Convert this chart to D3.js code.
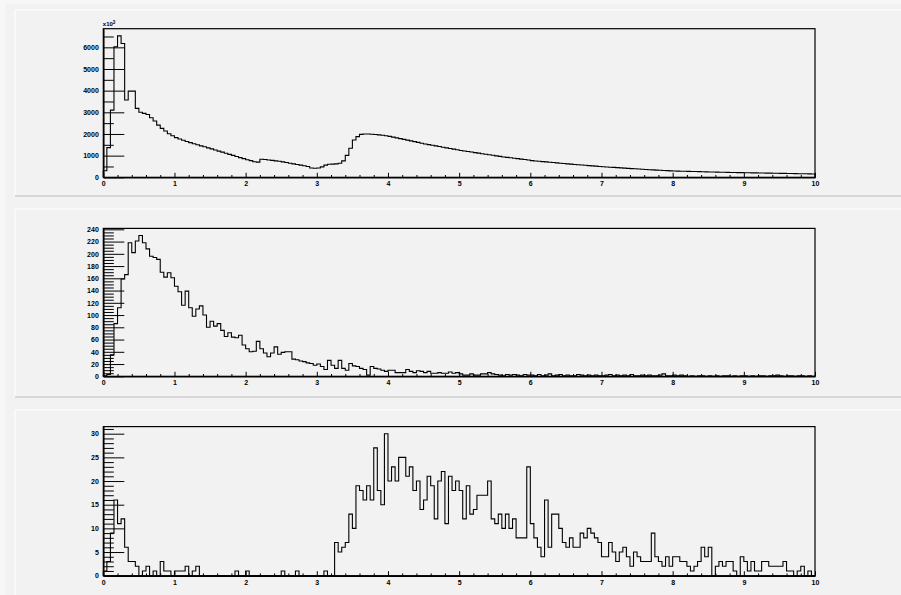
<!DOCTYPE html>
<html>
<head>
<meta charset="utf-8">
<script src="https://cdn.jsdelivr.net/npm/d3@7"></script>
<style>
  body { margin: 0; background: #f7f7f7; }
  svg text { font-family: "Liberation Sans", Arial, sans-serif; font-weight: bold; font-size: 7px; fill: #000; }
</style>
</head>
<body>
<svg id="canvas" width="901" height="595"></svg>
<script>
// histogram range, 200 bins of 0.05
const xDomain = [0, 10];
const nBins = 200;

// top pad (labels in units shown on axis, x10^3)
const topCounts = [
  300, 1370, 3100, 6030, 6530, 6180, 3570, 3980, 3980, 3180,
  3000, 2950, 2900, 2750, 2600, 2410, 2260, 2140, 2010, 1920,
  1830, 1770, 1710, 1650, 1600, 1550, 1500, 1450, 1410, 1360,
  1310, 1260, 1210, 1160, 1110, 1060, 1010, 960, 910, 860,
  810, 770, 720, 700, 830, 820, 800, 780, 760, 740,
  710, 680, 650, 620, 590, 560, 530, 500, 430, 420,
  430, 480, 560, 600, 610, 620, 650, 760, 1010, 1340,
  1720, 1880, 1980, 2000, 2000, 1990, 1975, 1960, 1940, 1920,
  1890, 1855, 1820, 1785, 1750, 1715, 1680, 1645, 1610, 1575,
  1540, 1510, 1480, 1450, 1420, 1390, 1360, 1330, 1300, 1270,
  1240, 1215, 1190, 1165, 1140, 1115, 1090, 1065, 1040, 1015,
  990, 965, 940, 920, 900, 880, 860, 840, 820, 800,
  770, 755, 740, 725, 710, 695, 680, 665, 650, 636,
  622, 608, 594, 580, 566, 553, 540, 527, 514, 501,
  489, 478, 467, 456, 445, 434, 423, 412, 402, 392,
  382, 372, 362, 352, 342, 333, 324, 315, 306, 298,
  290, 286, 282, 278, 274, 270, 265, 260, 255, 250,
  246, 242, 238, 234, 230, 226, 222, 219, 216, 214,
  212, 209, 206, 203, 200, 197, 194, 191, 188, 185,
  182, 179, 176, 173, 170, 167, 164, 161, 158, 155
];

const midCounts = [
  1, 3, 35, 86, 112, 159, 166, 218, 202, 221,
  230, 218, 208, 196, 194, 191, 170, 162, 169, 161,
  147, 138, 116, 139, 112, 98, 110, 115, 100, 80,
  90, 82, 86, 75, 65, 71, 64, 63, 67, 51,
  45, 40, 41, 57, 45, 38, 32, 38, 48, 36,
  39, 40, 40, 28, 27, 25, 24, 22, 21, 18,
  20, 16, 11, 26, 18, 13, 26, 13, 10, 21,
  17, 16, 13, 11, 2, 16, 13, 12, 10, 8,
  10, 10, 6, 6, 6, 11, 8, 6, 9, 8,
  6, 8, 5, 5, 6, 5, 5, 7, 5, 6,
  4, 2, 2, 4, 2, 2, 4, 4, 6, 4,
  3, 2, 1, 3, 2, 3, 2, 1, 3, 2,
  2, 1, 3, 1, 2, 4, 1, 2, 3, 1,
  2, 1, 1, 3, 2, 1, 2, 1, 2, 1,
  1, 2, 3, 1, 2, 1, 2, 1, 3, 1,
  1, 2, 1, 2, 1, 1, 2, 4, 1, 1,
  2, 1, 2, 1, 0, 1, 0, 1, 1, 0,
  1, 0, 1, 0, 1, 1, 0, 1, 0, 1,
  1, 0, 1, 0, 1, 1, 0, 1, 1, 2,
  1, 0, 1, 1, 0, 1, 1, 0, 1, 0
];

const botCounts = [
  1, 3, 9, 16, 11, 12, 6, 3, 3, 2,
  0, 1, 2, 0, 1, 0, 3, 1, 1, 0,
  1, 1, 1, 2, 0, 1, 2, 0, 0, 0,
  0, 0, 0, 0, 0, 0, 0, 1, 0, 0,
  1, 0, 0, 0, 0, 0, 0, 0, 0, 0,
  1, 0, 0, 0, 1, 0, 0, 0, 0, 0,
  0, 0, 1, 0, 0, 7, 5, 6, 7, 13,
  10, 19, 18, 16, 19, 16, 27, 18, 15, 30,
  20, 23, 20, 25, 25, 21, 23, 18, 20, 14,
  16, 21, 19, 12, 20, 22, 11, 21, 18, 20,
  18, 12, 19, 13, 14, 17, 17, 17, 20, 12,
  11, 13, 10, 13, 10, 12, 8, 8, 8, 23,
  11, 8, 6, 4, 16, 6, 13, 13, 10, 7,
  6, 8, 6, 6, 9, 8, 10, 9, 8, 7,
  4, 4, 7, 5, 3, 5, 6, 4, 2, 5,
  4, 3, 3, 3, 9, 4, 3, 2, 4, 2,
  4, 4, 3, 3, 2, 1, 2, 3, 6, 4,
  6, 0, 2, 3, 2, 3, 3, 1, 0, 4,
  3, 1, 3, 1, 1, 3, 3, 2, 2, 2,
  2, 3, 1, 1, 0, 1, 2, 0, 1, 0
];

const xTicks = [0, 1, 2, 3, 4, 5, 6, 7, 8, 9, 10];
const topYTicks = [0, 1000, 2000, 3000, 4000, 5000, 6000];
const midYTicks = [0, 20, 40, 60, 80, 100, 120, 140, 160, 180, 200, 220, 240];
const botYTicks = [0, 5, 10, 15, 20, 25, 30];

// layout
const frameLeft = 103.3, frameRight = 815;
const panels = [
  { counts: topCounts, yMax: 6860, ticks: topYTicks, minorStep: 500, top: 28.7, bottom: 177.3, padTop: 10, padBottom: 196, exponent: "3" },
  { counts: midCounts, yMax: 241.5, ticks: midYTicks, minorStep: 5, top: 228.4, bottom: 376.3, padTop: 209, padBottom: 397 },
  { counts: botCounts, yMax: 31.5, ticks: botYTicks, minorStep: 1, top: 426.6, bottom: 575.7, padTop: 410, padBottom: 597 }
];

const svg = d3.select('#canvas');
svg.append('rect').attr('x', 5).attr('y', 4).attr('width', 896).attr('height', 591).attr('fill', '#f2f2f2');

const binWidth = (xDomain[1] - xDomain[0]) / nBins;
const edges = d3.range(nBins).map(i => xDomain[0] + i * binWidth);

panels.forEach(p => {
  const g = svg.append('g');

  // pad with bevel border
  g.append('rect').attr('x', 15).attr('y', p.padTop).attr('width', 901 - 15).attr('height', p.padBottom - p.padTop).attr('fill', '#f2f2f2');
  g.append('line').attr('x1', 15).attr('x2', 901).attr('y1', p.padTop).attr('y2', p.padTop).attr('stroke', '#ffffff');
  g.append('line').attr('x1', 15).attr('x2', 15).attr('y1', p.padTop).attr('y2', p.padBottom).attr('stroke', '#ffffff');
  g.append('line').attr('x1', 15).attr('x2', 901).attr('y1', p.padBottom).attr('y2', p.padBottom).attr('stroke', '#bcbcbc');

  const x = d3.scaleLinear().domain(xDomain).range([frameLeft, frameRight]);
  const y = d3.scaleLinear().domain([0, p.yMax]).range([p.bottom, p.top]);

  // histogram outline
  const pts = p.counts.map((v, i) => [edges[i], v]);
  pts.unshift([xDomain[0], 0]);
  pts.push([xDomain[1], p.counts[nBins - 1]]);
  pts.push([xDomain[1], 0]);
  const line = d3.line().x(d => x(d[0])).y(d => y(d[1])).curve(d3.curveStepAfter);
  g.append('path').attr('d', line(pts)).attr('fill', 'none').attr('stroke', '#000').attr('stroke-width', 1.1);

  // frame
  g.append('rect').attr('x', frameLeft).attr('y', p.top).attr('width', frameRight - frameLeft).attr('height', p.bottom - p.top)
    .attr('fill', 'none').attr('stroke', '#000').attr('stroke-width', 1.2);

  // x axis
  const xAxis = g.append('g').attr('transform', `translate(0,${p.bottom})`)
    .call(d3.axisBottom(x).tickValues(xTicks).tickSize(-4.5).tickPadding(4).tickSizeOuter(0).tickFormat(d3.format('d')));
  const xMinor = d3.range(0, 50).map(i => i * 0.2).filter(v => Math.abs(v - Math.round(v)) > 1e-6);
  g.append('g').attr('transform', `translate(0,${p.bottom})`)
    .call(d3.axisBottom(x).tickValues(xMinor).tickSize(-2.3).tickSizeOuter(0).tickFormat(''))
    .select('.domain').remove();

  // y axis
  const yAxis = g.append('g').attr('transform', `translate(${frameLeft},0)`)
    .call(d3.axisLeft(y).tickValues(p.ticks).tickSize(-21).tickPadding(4.5).tickSizeOuter(0).tickFormat(d3.format('d')));
  const majorStep = p.ticks[1] - p.ticks[0];
  const yMinor = d3.range(1, Math.floor(p.yMax / p.minorStep) + 1).map(i => i * p.minorStep).filter(v => v % majorStep !== 0);
  g.append('g').attr('transform', `translate(${frameLeft},0)`)
    .call(d3.axisLeft(y).tickValues(yMinor).tickSize(-10.5).tickSizeOuter(0).tickFormat(''))
    .select('.domain').remove();

  g.selectAll('.domain').attr('stroke', '#000').attr('stroke-width', 1.5);
  g.selectAll('.tick line').attr('stroke', '#000').attr('stroke-width', 1);
  g.selectAll('.tick text').attr('font-size', null).attr('font-family', null);

  if (p.exponent) {
    const t = g.append('text').attr('x', frameLeft - 0.5).attr('y', p.top - 2.5).style('font-size', '6px');
    t.append('tspan').text('x10');
    t.append('tspan').attr('dy', -2.5).style('font-size', '4.5px').text(p.exponent);
  }
});
</script>
</body>
</html>
